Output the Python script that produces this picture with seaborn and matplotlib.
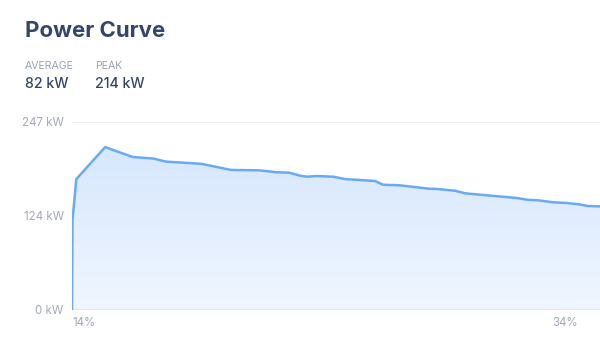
import numpy as np
import pandas as pd
import matplotlib
matplotlib.use("Agg")
import matplotlib.pyplot as plt
import seaborn as sns
from matplotlib.colors import LinearSegmentedColormap

# ---- data ----
soc_pct = [14.0, 14.02, 14.18, 15.38, 16.53, 17.39, 17.9, 19.4, 20.63, 21.79, 22.53, 23.05,
           23.5, 23.78, 24.2, 24.89, 25.38, 26.63, 26.95, 27.67, 28.85, 29.2, 29.96, 30.38,
           31.28, 32.53, 32.95, 33.43, 34.05, 34.6, 35.1, 35.5, 36.0]
power_kw = [0, 118, 172, 214, 201, 199, 195, 192, 184, 183.5, 181, 180.4,
            176.5, 175.1, 176, 175.1, 172, 169.5, 164.6, 163.8, 159.4, 159, 156.7, 153.3,
            150.7, 147.2, 144.9, 144.1, 141.5, 140.6, 138.9, 136.6, 136.2]
y_ticks = [0, 124, 247]
y_tick_labels = ["0 kW", "124 kW", "247 kW"]
x_ticks = [14, 34]
x_tick_labels = ["14%", "34%"]
stat_labels = ["AVERAGE", "PEAK"]
stat_values = ["82 kW", "214 kW"]
title = "Power Curve"

df = pd.DataFrame({"soc": soc_pct, "power": power_kw})

sns.set_theme(style="white")
plt.rcParams["font.family"] = ["Inter", "DejaVu Sans"]

fig = plt.figure(figsize=(6.0, 3.57), dpi=100)
ax = fig.add_axes([72 / 600, 1 - 310 / 357, 528 / 600, 188 / 357])

xmin, xmax = 14.0, 36.0
ymin, ymax = 0, 247
ax.set_xlim(xmin, xmax)
ax.set_ylim(ymin, ymax)

# gradient fill
poly = ax.fill_between(df["soc"], df["power"], 0, color="none", lw=0)
cmap = LinearSegmentedColormap.from_list("g", ["#f0f6ff", "#d6e7fd"])
grad = np.linspace(0, 1, 256).reshape(-1, 1)
im = ax.imshow(grad, extent=[xmin, xmax, 0, 214], origin="lower", aspect="auto",
               cmap=cmap, zorder=1)
path = poly.get_paths()[0]
im.set_clip_path(path, transform=ax.transData)

sns.lineplot(data=df, x="soc", y="power", ax=ax, color="#68aaf8", lw=1.8,
             zorder=3, estimator=None, sort=False)

# grid lines
for yt in y_ticks[1:]:
    ax.axhline(yt, color="#ebedf0", lw=1.2, zorder=0.5)
ax.axhline(0, color="#e3e7eb", lw=1.6, zorder=2)

for s in ax.spines.values():
    s.set_visible(False)

ax.set_yticks(y_ticks)
ax.set_yticklabels(y_tick_labels, color="#a3a9b8", fontsize=8.3)
ax.tick_params(axis="y", length=0, pad=6)
ax.set_xticks(x_ticks)
ax.set_xticklabels(x_tick_labels, color="#a3a9b8", fontsize=8.3)
ax.tick_params(axis="x", length=0, pad=5)
for lbl in ax.get_xticklabels():
    lbl.set_horizontalalignment("left")
ax.set_xlabel("")
ax.set_ylabel("")
ax.grid(False)

# header
fig.text(25 / 600, 1 - 37 / 357, title, fontsize=16, fontweight="bold",
         color="#34476a", ha="left", va="baseline")
for i, (lab, val) in enumerate(zip(stat_labels, stat_values)):
    x0 = [25, 95][i] / 600
    fig.text(x0, 1 - 69 / 357, lab, fontsize=7.6, color="#9aa2b3",
             ha="left", va="baseline")
    fig.text(x0, 1 - 88 / 357, val, fontsize=10.2, fontweight="medium",
             color="#34476a", ha="left", va="baseline")

fig.savefig("out.png", dpi=100)
